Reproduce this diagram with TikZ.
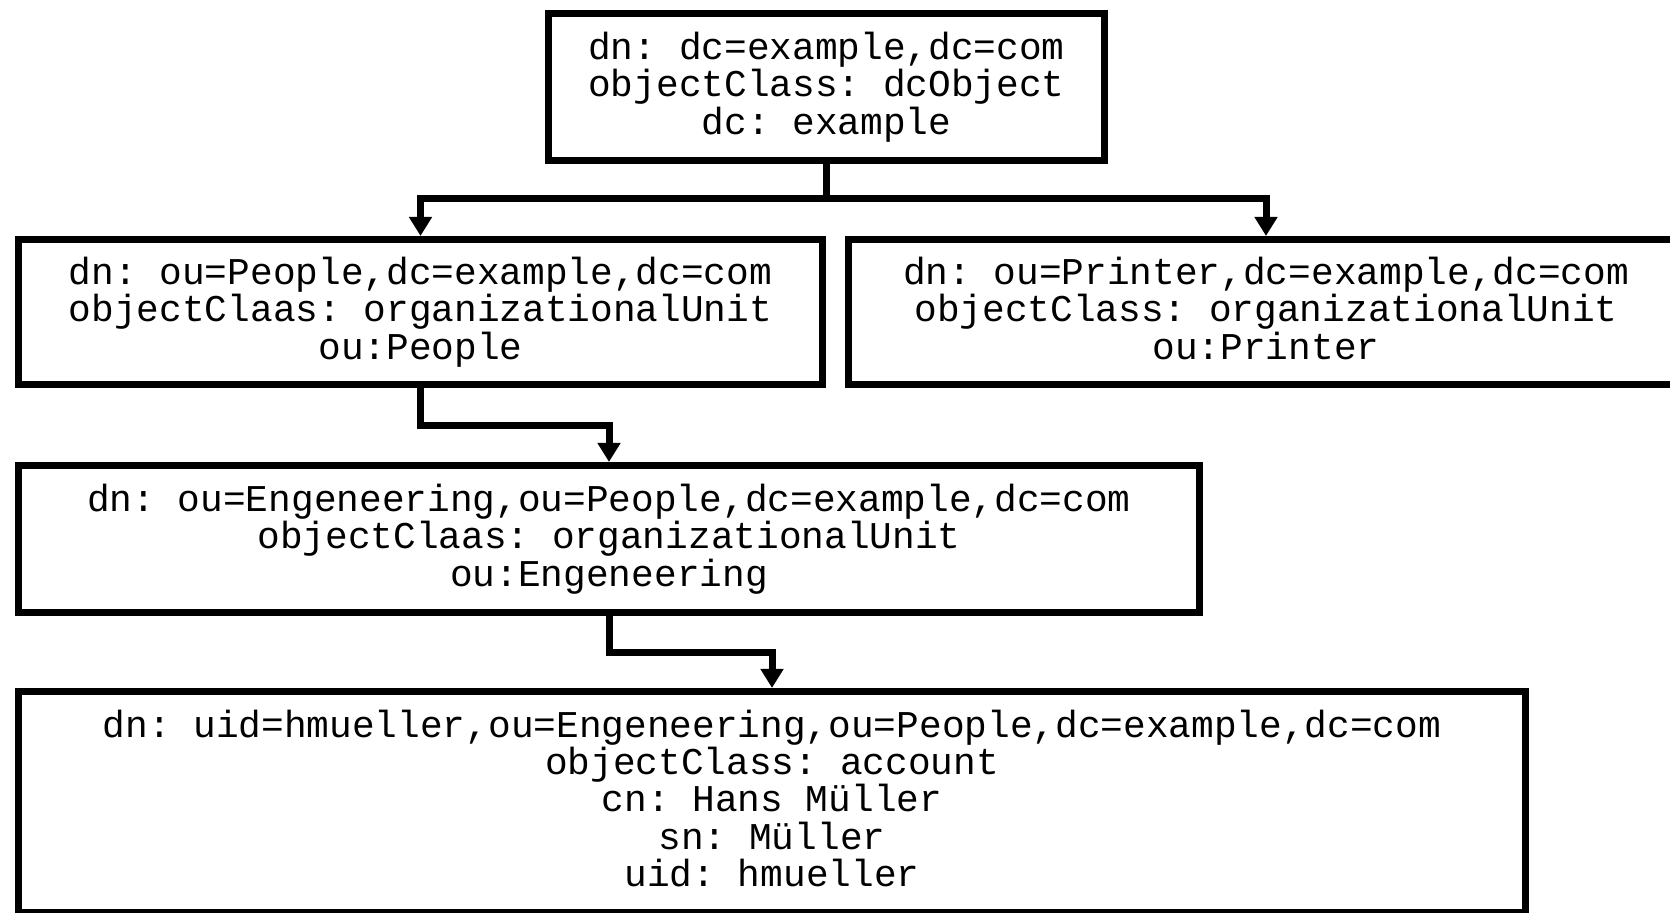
\documentclass[tikz,border=0pt]{standalone}
\usepackage{fontspec}
\setmonofont{Liberation Mono}
\usetikzlibrary{arrows.meta}
\begin{document}
\begin{tikzpicture}[x=0.01cm, y=-0.01cm,
  entry/.style={draw, line width=0.07cm, inner sep=0pt, align=center,
    font=\ttfamily\fontsize{10.75}{10.6}\selectfont
  },
  link/.style={line width=0.07cm,
    -{Triangle[width=0.22cm,length=0.19cm]}
  },
  ]
  \useasboundingbox (0,0) rectangle (1670,912);
  \node[entry, minimum width=5.56cm, minimum height=1.47cm] (root) at (826.5,87)
    {dn: dc=example,dc=com\\objectClass: dcObject\\dc: example};
  \node[entry, minimum width=8.04cm, minimum height=1.45cm] (people) at (420.5,312)
    {dn: ou=People,dc=example,dc=com\\objectClaas: organizationalUnit\\ou:People};
  \node[entry, minimum width=8.34cm, minimum height=1.45cm] (printer) at (1266,312)
    {dn: ou=Printer,dc=example,dc=com\\objectClass: organizationalUnit\\ou:Printer\vphantom{p}};
  \node[entry, minimum width=11.81cm, minimum height=1.47cm] (eng) at (609,539)
    {dn: ou=Engeneering,ou=People,dc=example,dc=com\\objectClaas: organizationalUnit\\ou:Engeneering};
  \node[entry, minimum width=15.07cm, minimum height=2.21cm] (user) at (772,802)
    {dn: uid=hmueller,ou=Engeneering,ou=People,dc=example,dc=com\\objectClass: account\\cn: Hans Müller\\sn: Müller\\uid: hmueller\vphantom{p}};
  % connectors
  \draw[link] (root.south) -- ++(0,34) -| (people.north);
  \draw[link] (root.south) -- ++(0,34) -| (printer.north);
  \draw[link] (people.south) -- ++(0,37) -| (eng.north);
  \draw[link] (eng.south) -- ++(0,36) -| (user.north);
\end{tikzpicture}
\end{document}
